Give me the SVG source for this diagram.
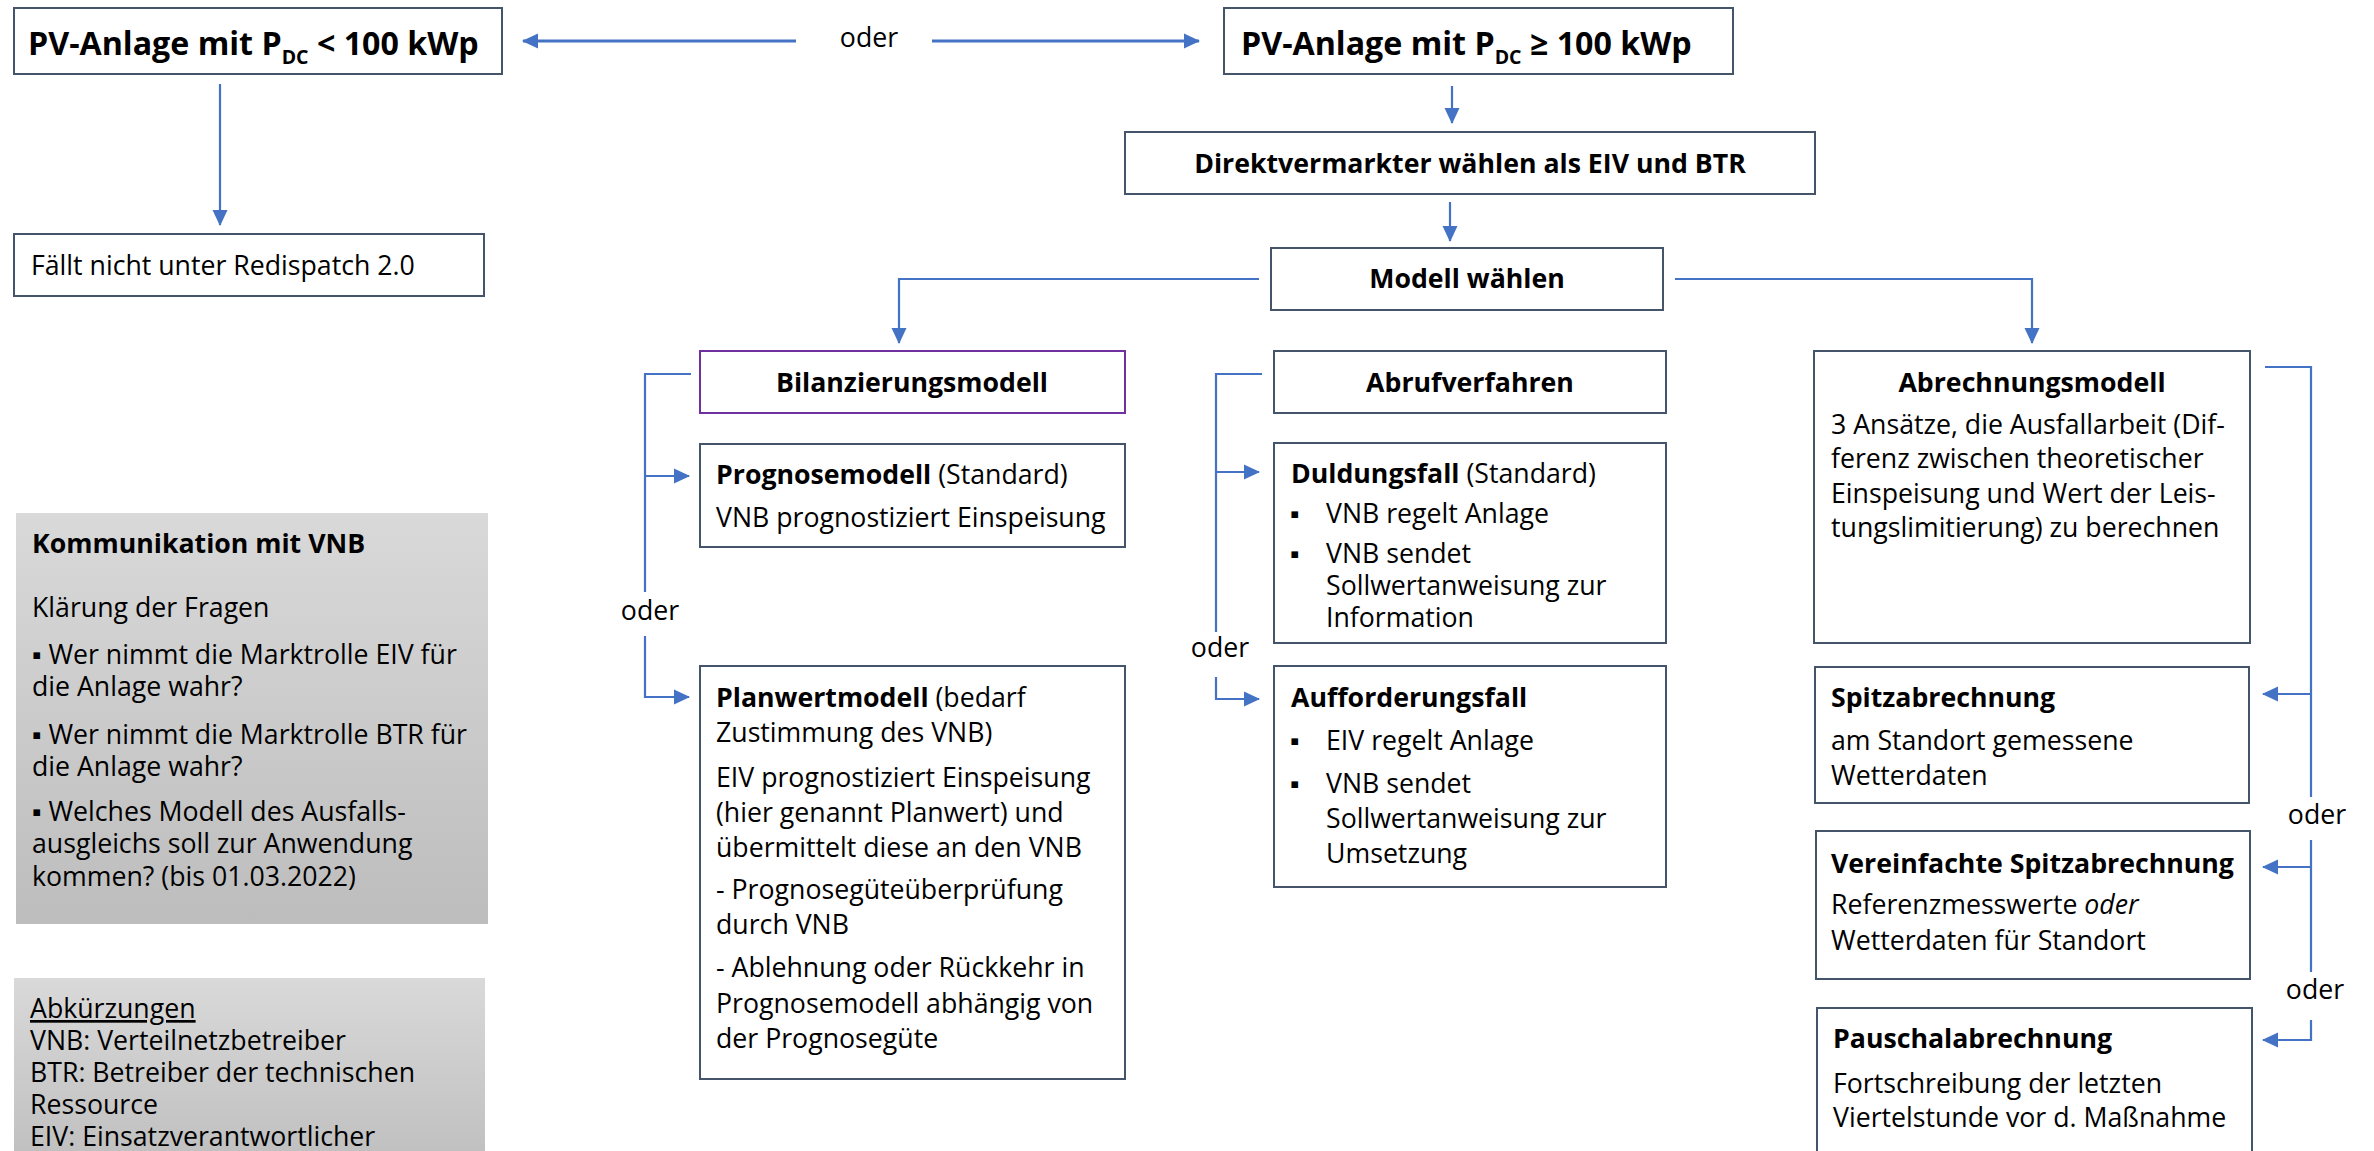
<svg xmlns="http://www.w3.org/2000/svg" width="2374" height="1151" viewBox="0 0 2374 1151">
<defs>
<style>
.box{fill:#fff;stroke:#44546a;stroke-width:2}
.pbox{fill:#fff;stroke:#7030a0;stroke-width:2}
.t{font-family:"Open Sans","Noto Sans","Liberation Sans",sans-serif;font-size:26.7px;fill:#000}
.big{font-size:32.2px}
.b{font-weight:bold}
.c{text-anchor:middle}
.conn{fill:none;stroke:#4472c4;stroke-width:2.2}
.thick{stroke-width:3}
.arr{marker-end:url(#ah)}
</style>
<marker id="ah" markerUnits="userSpaceOnUse" markerWidth="16" markerHeight="16" viewBox="0 0 16 16" refX="15" refY="8" orient="auto">
<path d="M0,0.5 L16,8 L0,15.5 z" fill="#4472c4"/>
</marker>
<linearGradient id="g1" x1="0" y1="0" x2="0" y2="1">
<stop offset="0" stop-color="#d9d9d9"/>
<stop offset="1" stop-color="#bdbdbd"/>
</linearGradient>
</defs>
<rect width="2374" height="1151" fill="#fff"/>

<g id="connectors">
<path class="conn thick arr" d="M796,41 H523"/>
<path class="conn thick arr" d="M932,41 H1199"/>
<path class="conn arr" d="M220,84 V225"/>
<path class="conn arr" d="M1452,86 V123"/>
<path class="conn arr" d="M1450,202 V241"/>
<path class="conn arr" d="M1259,279 H899 V343"/>
<path class="conn arr" d="M1675,279 H2032 V343"/>
<path class="conn" d="M691,374 H645 V592"/>
<path class="conn arr" d="M645,476 H689"/>
<path class="conn arr" d="M645,636 V697 H689"/>
<path class="conn" d="M1262,374 H1216 V632"/>
<path class="conn arr" d="M1216,472 H1259"/>
<path class="conn arr" d="M1216,677 V699 H1259"/>
<path class="conn" d="M2265,367 H2311 V797"/>
<path class="conn arr" d="M2311,694 H2263"/>
<path class="conn" d="M2311,840 V972"/>
<path class="conn arr" d="M2311,867 H2263"/>
<path class="conn arr" d="M2311,1020 V1040 H2263"/>
<text class="t c" x="869" y="47">oder</text>
<text class="t c" x="650" y="620">oder</text>
<text class="t c" x="1220" y="657">oder</text>
<text class="t c" x="2317" y="824">oder</text>
<text class="t c" x="2315" y="999">oder</text>
</g>

<g id="pv-small">
<rect class="box" x="14" y="8" width="488" height="66"/>
<text class="t big b" x="28" y="55">PV-Anlage mit P<tspan font-size="19.5" dy="9">DC</tspan><tspan dy="-9"> &lt; 100 kWp</tspan></text>
</g>

<g id="faellt-nicht">
<rect class="box" x="14" y="234" width="470" height="62"/>
<text class="t" x="31" y="275">Fällt nicht unter Redispatch 2.0</text>
</g>

<g id="pv-large">
<rect class="box" x="1224" y="8" width="509" height="66"/>
<text class="t big b" x="1241" y="55">PV-Anlage mit P<tspan font-size="19.5" dy="9">DC</tspan><tspan dy="-9"> ≥ 100 kWp</tspan></text>
</g>

<g id="direktvermarkter">
<rect class="box" x="1125" y="132" width="690" height="62"/>
<text class="t b c" x="1470" y="173">Direktvermarkter wählen als EIV und BTR</text>
</g>

<g id="modell-waehlen">
<rect class="box" x="1271" y="248" width="392" height="62"/>
<text class="t b c" x="1467" y="288">Modell wählen</text>
</g>

<g id="bilanzierungsmodell">
<rect class="pbox" x="700" y="351" width="425" height="62"/>
<text class="t b c" x="912" y="392">Bilanzierungsmodell</text>
</g>

<g id="prognosemodell">
<rect class="box" x="700" y="444" width="425" height="103"/>
<text class="t" x="716" y="484"><tspan class="b">Prognosemodell</tspan> (Standard)</text>
<text class="t" x="716" y="527">VNB prognostiziert Einspeisung</text>
</g>

<g id="planwertmodell">
<rect class="box" x="700" y="666" width="425" height="413"/>
<text class="t" x="716" y="707"><tspan class="b">Planwertmodell</tspan> (bedarf</text>
<text class="t" x="716" y="742">Zustimmung des VNB)</text>
<text class="t" x="716" y="787">EIV prognostiziert Einspeisung</text>
<text class="t" x="716" y="822">(hier genannt Planwert) und</text>
<text class="t" x="716" y="857">übermittelt diese an den VNB</text>
<text class="t" x="716" y="899">- Prognosegüteüberprüfung</text>
<text class="t" x="716" y="934">durch VNB</text>
<text class="t" x="716" y="977">- Ablehnung oder Rückkehr in</text>
<text class="t" x="716" y="1013">Prognosemodell abhängig von</text>
<text class="t" x="716" y="1048">der Prognosegüte</text>
</g>

<g id="abrufverfahren">
<rect class="box" x="1274" y="351" width="392" height="62"/>
<text class="t b c" x="1470" y="392">Abrufverfahren</text>
</g>

<g id="duldungsfall">
<rect class="box" x="1274" y="443" width="392" height="200"/>
<text class="t" x="1291" y="483"><tspan class="b">Duldungsfall</tspan> (Standard)</text>
<text class="t" x="1290" y="523">▪</text>
<text class="t" x="1326" y="523">VNB regelt Anlage</text>
<text class="t" x="1290" y="563">▪</text>
<text class="t" x="1326" y="563">VNB sendet</text>
<text class="t" x="1326" y="595">Sollwertanweisung zur</text>
<text class="t" x="1326" y="627">Information</text>
</g>

<g id="aufforderungsfall">
<rect class="box" x="1274" y="666" width="392" height="221"/>
<text class="t b" x="1291" y="707">Aufforderungsfall</text>
<text class="t" x="1290" y="750">▪</text>
<text class="t" x="1326" y="750">EIV regelt Anlage</text>
<text class="t" x="1290" y="793">▪</text>
<text class="t" x="1326" y="793">VNB sendet</text>
<text class="t" x="1326" y="828">Sollwertanweisung zur</text>
<text class="t" x="1326" y="863">Umsetzung</text>
</g>

<g id="abrechnungsmodell">
<rect class="box" x="1814" y="351" width="436" height="292"/>
<text class="t b c" x="2032" y="392">Abrechnungsmodell</text>
<text class="t" x="1831" y="434">3 Ansätze, die Ausfallarbeit (Dif-</text>
<text class="t" x="1831" y="468">ferenz zwischen theoretischer</text>
<text class="t" x="1831" y="503">Einspeisung und Wert der Leis-</text>
<text class="t" x="1831" y="537">tungslimitierung) zu berechnen</text>
</g>

<g id="spitzabrechnung">
<rect class="box" x="1815" y="667" width="434" height="136"/>
<text class="t b" x="1831" y="707">Spitzabrechnung</text>
<text class="t" x="1831" y="750">am Standort gemessene</text>
<text class="t" x="1831" y="785">Wetterdaten</text>
</g>

<g id="vereinfachte-spitzabrechnung">
<rect class="box" x="1816" y="831" width="434" height="148"/>
<text class="t b" x="1831" y="873">Vereinfachte Spitzabrechnung</text>
<text class="t" x="1831" y="914">Referenzmesswerte <tspan font-style="italic">oder</tspan></text>
<text class="t" x="1831" y="950">Wetterdaten für Standort</text>
</g>

<g id="pauschalabrechnung">
<rect class="box" x="1817" y="1008" width="435" height="160"/>
<text class="t b" x="1833" y="1048">Pauschalabrechnung</text>
<text class="t" x="1833" y="1093">Fortschreibung der letzten</text>
<text class="t" x="1833" y="1127">Viertelstunde vor d. Maßnahme</text>
</g>

<g id="kommunikation">
<rect x="16" y="513" width="472" height="411" fill="url(#g1)"/>
<text class="t b" x="32" y="553">Kommunikation mit VNB</text>
<text class="t" x="32" y="617">Klärung der Fragen</text>
<text class="t" x="32" y="664">▪ Wer nimmt die Marktrolle EIV für</text>
<text class="t" x="32" y="696">die Anlage wahr?</text>
<text class="t" x="32" y="744">▪ Wer nimmt die Marktrolle BTR für</text>
<text class="t" x="32" y="776">die Anlage wahr?</text>
<text class="t" x="32" y="821">▪ Welches Modell des Ausfalls-</text>
<text class="t" x="32" y="853">ausgleichs soll zur Anwendung</text>
<text class="t" x="32" y="886">kommen? (bis 01.03.2022)</text>
</g>

<g id="abkuerzungen">
<rect x="14" y="978" width="471" height="200" fill="url(#g1)"/>
<text class="t" x="30" y="1018" text-decoration="underline">Abkürzungen</text>
<text class="t" x="30" y="1050">VNB: Verteilnetzbetreiber</text>
<text class="t" x="30" y="1082">BTR: Betreiber der technischen</text>
<text class="t" x="30" y="1114">Ressource</text>
<text class="t" x="30" y="1146">EIV: Einsatzverantwortlicher</text>
</g>
</svg>
